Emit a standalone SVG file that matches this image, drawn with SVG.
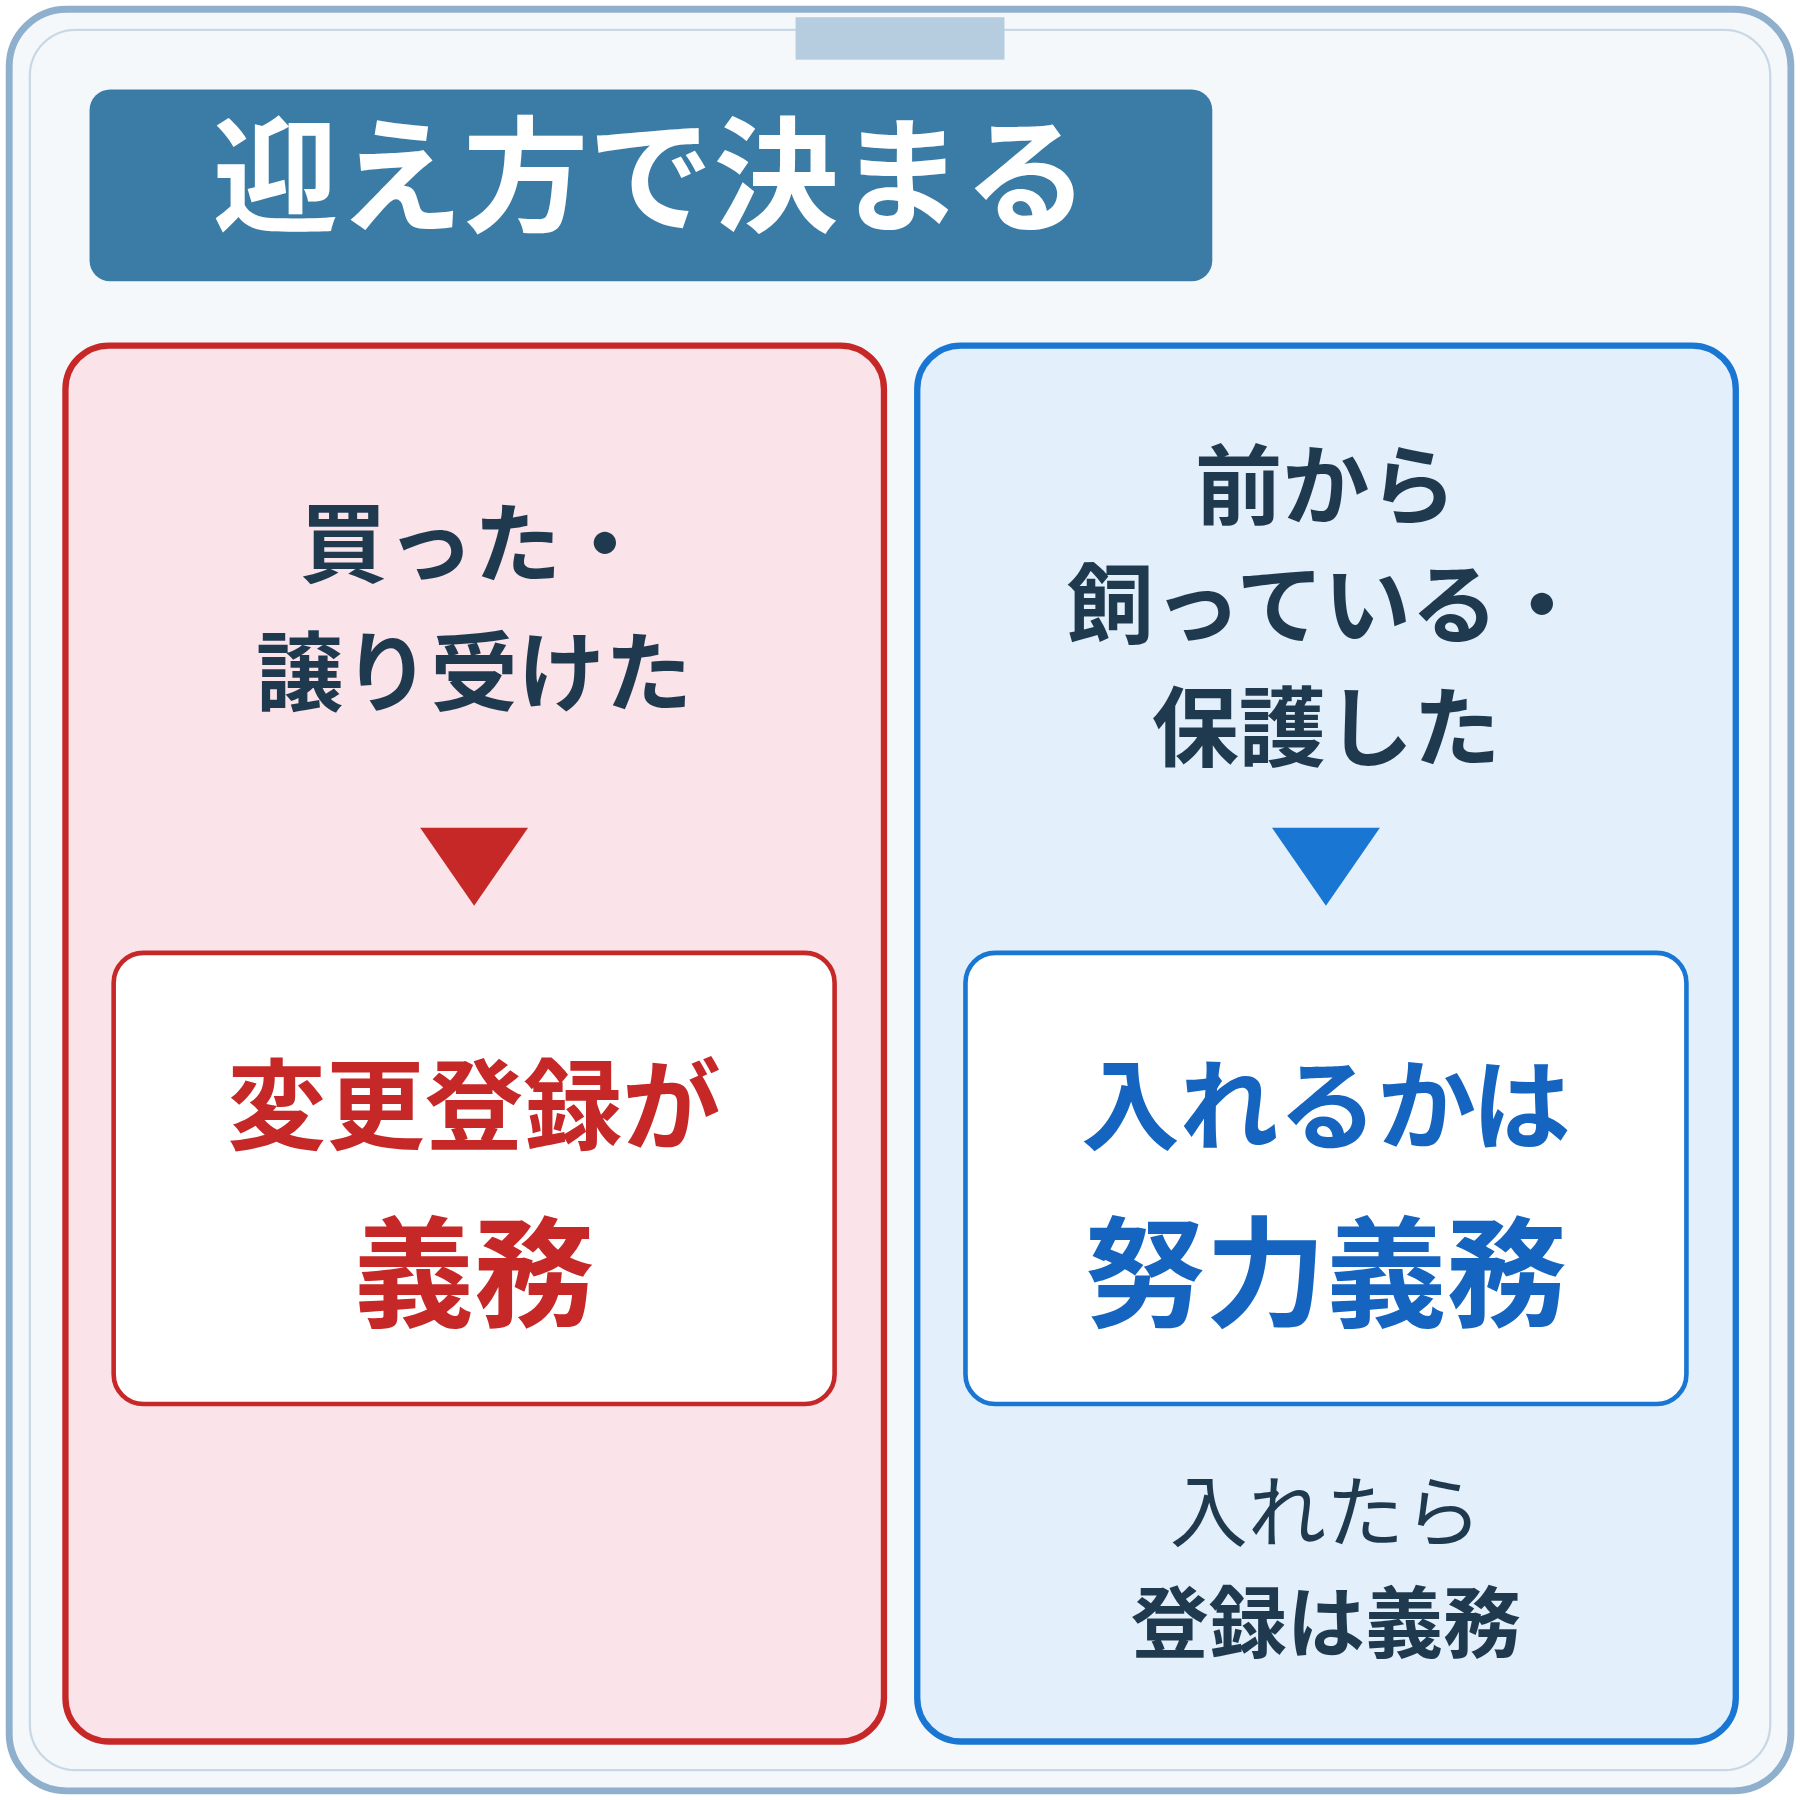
<svg xmlns="http://www.w3.org/2000/svg" width="1800" height="1800" viewBox="0 0 1800 1800">
<style>
text{font-family:"Noto Sans CJK JP","Noto Sans CJK SC",sans-serif;font-weight:700;text-anchor:middle}
.dk{fill:#1f3a4f;font-size:76px}
.red{fill:#c62828}
.blue{fill:#1565c0}
</style>
<g transform="scale(1.148)">
<g id="frame">
<rect x="8" y="8" width="1552" height="1552" rx="50" fill="#f4f8fb" stroke="#8fb0cc" stroke-width="6"/>
<rect x="26" y="26" width="1516" height="1516" rx="40" fill="none" stroke="#c9d8e4" stroke-width="2"/>
<rect x="693" y="15" width="182" height="37" fill="#b6cde0"/>
</g>
<g id="title">
<rect x="78" y="78" width="978" height="167" rx="18" fill="#3b7ca6"/>
<text x="567" y="193" fill="#fff" font-size="109">迎え方で決まる</text>
</g>
<g id="left">
<rect x="57" y="301" width="713" height="1216" rx="38" fill="#fbe3ea" stroke="#c62828" stroke-width="5.5"/>
<text class="dk" x="413" y="502">買った・</text>
<text class="dk" x="413" y="614">譲り受けた</text>
<polygon points="366,721 460,721 413,789" fill="#c62828"/>
<rect x="99" y="830" width="628" height="393" rx="26" fill="#fff" stroke="#c62828" stroke-width="4"/>
<text class="red" x="413" y="995" font-size="86">変更登録が</text>
<text class="red" x="413" y="1148" font-size="105">義務</text>
</g>
<g id="right">
<rect x="799" y="301" width="713" height="1216" rx="38" fill="#e3f0fb" stroke="#1976d2" stroke-width="5.5"/>
<text class="dk" x="1155" y="451">前から</text>
<text class="dk" x="1155" y="555">飼っている・</text>
<text class="dk" x="1155" y="662">保護した</text>
<polygon points="1108,721 1202,721 1155,789" fill="#1976d2"/>
<rect x="841" y="830" width="628" height="393" rx="26" fill="#fff" stroke="#1976d2" stroke-width="4"/>
<text class="blue" x="1155" y="995" font-size="86">入れるかは</text>
<text class="blue" x="1155" y="1148" font-size="105">努力義務</text>
<text x="1155" y="1342" font-size="68" fill="#1f3a4f" style="font-weight:400">入れたら</text>
<text x="1155" y="1439" font-size="68" fill="#1f3a4f">登録は義務</text>
</g>
<g id="connectors"/>
</g>
</svg>
